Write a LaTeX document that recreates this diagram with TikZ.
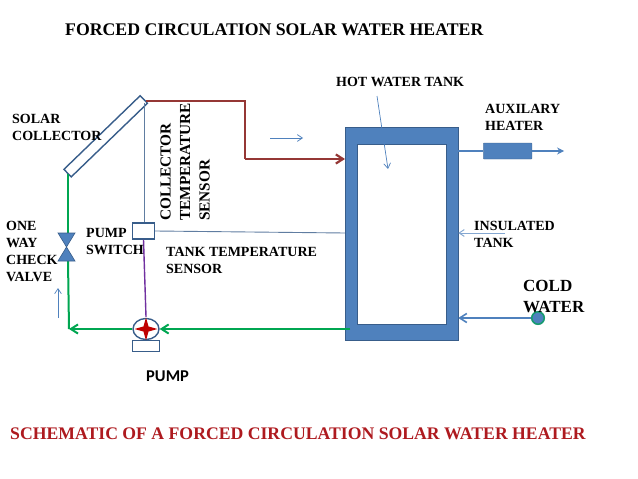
\documentclass[tikz,border=0pt]{standalone}
\usepackage{fontspec}
\setmainfont{Liberation Serif}
\newfontfamily\pumpfont{Carlito}
\usetikzlibrary{arrows.meta,calc,positioning,shapes.geometric}
\definecolor{tankblue}{HTML}{4F81BD}
\definecolor{edgeblue}{HTML}{385D8A}
\definecolor{pipegreen}{HTML}{00A651}
\definecolor{pipered}{HTML}{953735}
\definecolor{wirepurple}{HTML}{7030A0}
\definecolor{titlered}{HTML}{AE1A1F}
\definecolor{rotorred}{HTML}{C00000}
\tikzset{lbl/.style={font=\fontsize{14}{17}\selectfont\bfseries,align=left,inner sep=0pt,anchor=north west},
  outline/.style={draw=edgeblue,line width=1.4pt,fill=white},
  pipe/.style={pipegreen,line width=2pt},
  hotpipe/.style={pipered,line width=2.2pt},
  barb/.style={-{Straight Barb[length=2.5mm,width=3.2mm]}},
  thin arr/.style={tankblue,line width=0.7pt,-{Straight Barb[length=1.8mm,width=2.4mm]}},
  bluepipe/.style={tankblue,line width=1.6pt}}
\begin{document}
\begin{tikzpicture}[x=1pt,y=-1pt]
\useasboundingbox (0,0) rectangle (638,479);
% tank
\node[draw=edgeblue,fill=tankblue,line width=0.5pt,minimum width=113pt,minimum height=213pt,inner sep=0pt] (tank) at (401.5,233.5) {};
\node[draw=edgeblue,fill=white,line width=0.8pt,minimum width=89pt,minimum height=180pt,inner sep=0pt] (inner) at (401.5,234) {};
% collector, switch, pump
\node[outline,rotate=44,minimum width=106pt,minimum height=10.5pt,inner sep=0pt] (coll) at (105.7,136.3) {};
\node[outline,minimum width=22pt,minimum height=16pt,inner sep=0pt] (switch) at (143.5,231) {};
\node[outline,ellipse,minimum width=26pt,minimum height=21pt,inner sep=0pt] (pump) at (146,329) {};
\node[star,star points=4,star point ratio=3.2,fill=rotorred,minimum size=23pt,inner sep=0pt] (rotor) at (146,329) {};
\node[outline,line width=1pt,minimum width=27.5pt,minimum height=11pt,inner sep=0pt] (base) at (146.2,345.5) {};
\node[draw=edgeblue,fill=tankblue,rounded corners=0.5pt,minimum width=48.5pt,minimum height=16pt,inner sep=0pt] (heater) at (507.7,151) {};
\node[circle,draw=pipegreen!70!tankblue,fill=tankblue,line width=1.6pt,minimum size=12.5pt,inner sep=0pt] (cold) at (538,318) {};
% valve
\coordinate (valve) at (66.5,247);
% free ends
\coordinate (collin) at (146,101);
\coordinate (bend) at (245,159);
\coordinate (tankin) at (345,159);
\coordinate (collout) at (68,174);
\coordinate (valvetop) at (68,233);
\coordinate (valvebot) at (68,261);
\coordinate (corner) at (69,329);
\coordinate (tankout) at (350,329);
\coordinate (senstop) at (144,103);
\coordinate (sensend) at (345,233);
% pipes
\draw[hotpipe] (collin) -| (bend);
\draw[hotpipe,barb] (bend) -- (tankin);
\draw[pipe] (collout)--(valvetop);
\draw[pipe] (valvebot)--(corner);
\draw[pipe,barb] (pump.west)--(corner);
\draw[pipe,barb] (tankout)--(pump.east);
\draw[draw=edgeblue,fill=tankblue,line width=0.6pt] ($(valve)+(-8.5,-14)$)--($(valve)+(8.5,-14)$)--($(valve)+(-8.5,14)$)--($(valve)+(8.5,14)$)--cycle;
\draw[edgeblue!80,line width=0.9pt] (senstop)--(switch.north -| senstop);
\draw[edgeblue!80,line width=0.9pt] (switch.east)--(sensend);
\draw[wirepurple,line width=1.4pt] (switch.south)--(rotor.north);
\draw[bluepipe] (tank.east |- heater) -- (heater.west);
\draw[bluepipe,-{Stealth[length=2.5mm,width=2.5mm]}] (heater.east) -- ++(32,0) coordinate (hotout);
\draw[bluepipe,barb] (cold.west) -- (tank.east |- cold);
% thin arrows
\coordinate (flowa) at (58,318);
\coordinate (flowb) at (58,288);
\draw[thin arr] (flowa)--(flowb);
\coordinate (flowc) at (270,138);
\coordinate (flowd) at (303,138);
\draw[thin arr] (flowc)--(flowd);
\coordinate (hota) at (377,96);
\coordinate (hotb) at (388,169);
\draw[thin arr] (hota)--(hotb);
\coordinate (insa) at (505,233);
\draw[thin arr,tankblue!70,line width=1pt] (insa)--(tank.east |- insa);
% labels
\node[font=\fontsize{17.75}{20}\selectfont\bfseries,inner sep=0pt,anchor=west] (title) at (65,30) {FORCED CIRCULATION SOLAR WATER HEATER};
\node[lbl] (hotlbl) at (336,77) {HOT WATER TANK};
\node[lbl] (auxlbl) at (485,104) {AUXILARY\\HEATER};
\node[lbl] (collbl) at (12,114) {SOLAR\\COLLECTOR};
\node[lbl] (valvelbl) at (6,221) {ONE\\WAY\\CHECK\\VALVE};
\node[lbl] (swlbl) at (86,228) {PUMP\\SWITCH};
\node[lbl] (tanklbl) at (166,247) {TANK TEMPERATURE\\SENSOR};
\node[lbl] (inslbl) at (474,221) {INSULATED\\TANK};
\node[lbl,font=\fontsize{17}{21}\selectfont\bfseries] (coldlbl) at (523,280) {COLD\\WATER};
\node[font=\fontsize{15.3}{19.5}\selectfont\bfseries,rotate=90,align=left,inner sep=0pt,anchor=south west] (senslbl) at (210,221) {COLLECTOR\\TEMPERATURE\\SENSOR};
\node[font=\pumpfont\fontsize{16.5}{20}\selectfont\bfseries,inner sep=0pt,anchor=west] (pumplbl) at (146,376) {PUMP};
\node[font=\fontsize{17.7}{20}\selectfont\bfseries,text=titlered,inner sep=0pt,anchor=west] (bottom) at (10,434) {SCHEMATIC OF A FORCED CIRCULATION SOLAR WATER HEATER};
\end{tikzpicture}
\end{document}
